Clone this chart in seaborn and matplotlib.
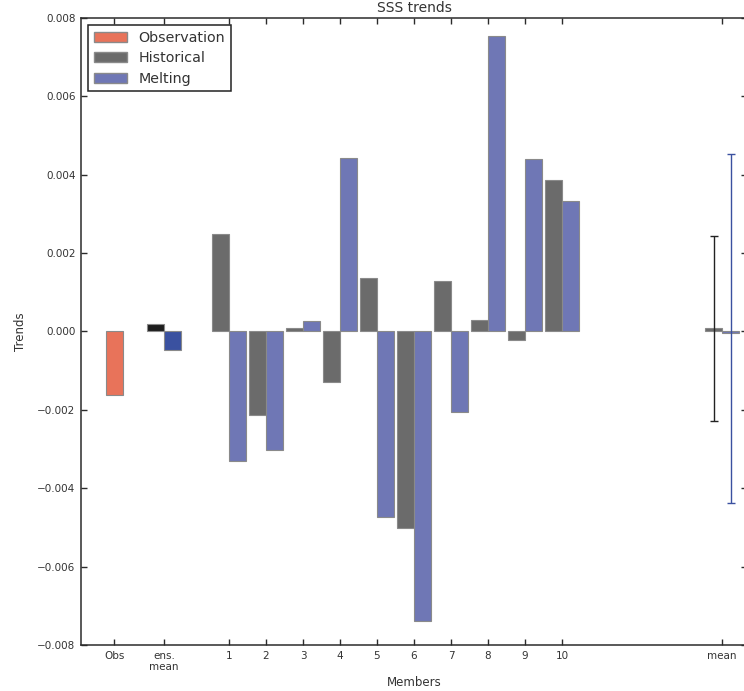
import matplotlib
matplotlib.use("Agg")
import matplotlib.pyplot as plt
import numpy as np
import seaborn as sns
from matplotlib.patches import Patch
from matplotlib.ticker import FuncFormatter

# ── Data ──────────────────────────────────────────────────────────────────────
MEMBERS = list(range(1, 11))
HISTORICAL = [0.0025, -0.00214, 0.0001, -0.0013, 0.00136,
              -0.00502, 0.00128, 0.0003, -0.00022, 0.00386]
MELTING = [-0.0033, -0.00303, 0.00027, 0.00444, -0.00474,
           -0.00738, -0.00205, 0.00754, 0.0044, 0.00332]
OBS_TREND = -0.00163
ENS_MEAN_HIST = 0.0002
ENS_MEAN_MELT = -0.00048
MEAN_HIST = 0.00008
MEAN_MELT = -0.00005
STD_HIST = 0.00236
STD_MELT = 0.00446
TICK_LABELS = ["Obs", "ens.\nmean"] + [str(m) for m in MEMBERS] + ["mean"]
YTICKS = [-0.008, -0.006, -0.004, -0.002, 0.0, 0.002, 0.004, 0.006, 0.008]

# ── Layout / style ────────────────────────────────────────────────────────────
POS_OBS, POS_ENS, POS_MEAN = -2.1, -0.75, 14.33
W = 0.46
COLORS = {
    "obs": "#e8735a",
    "hist": "#6b6b6b",
    "melt": "#6f77b5",
    "ens_hist": "#1e1e1e",
    "ens_melt": "#3a51a0",
}
EDGE = "#8a8a8a"

sns.set_style("white", {
    "axes.edgecolor": "#2b2b2b",
    "xtick.direction": "in",
    "ytick.direction": "in",
    "xtick.top": True,
    "ytick.right": True,
    "xtick.bottom": True,
    "ytick.left": True,
})
plt.rcParams["font.family"] = ["DejaVu Sans"]
plt.rcParams["axes.linewidth"] = 1.1

fig = plt.figure(figsize=(7.44, 6.91), dpi=100)
ax = fig.add_axes([81 / 744, 1 - 645 / 691, (747 - 81) / 744, (645 - 18) / 691])


def bars(x, y, color):
    sns.barplot(
        x=x, y=y, native_scale=True, orient="x", width=W, color=color,
        saturation=1, errorbar=None, edgecolor=EDGE, linewidth=0.8, ax=ax,
    )


members = np.array(MEMBERS, dtype=float)
bars([POS_OBS], [OBS_TREND], COLORS["obs"])
bars([POS_ENS - W / 2], [ENS_MEAN_HIST], COLORS["ens_hist"])
bars([POS_ENS + W / 2], [ENS_MEAN_MELT], COLORS["ens_melt"])
bars(members - W / 2, HISTORICAL, COLORS["hist"])
bars(members + W / 2, MELTING, COLORS["melt"])
bars([POS_MEAN - W / 2], [MEAN_HIST], COLORS["hist"])
bars([POS_MEAN + W / 2], [MEAN_MELT], COLORS["melt"])

# both spreads are drawn around the historical mean, as in the reference
ax.errorbar(POS_MEAN - W / 2, MEAN_HIST, yerr=STD_HIST, fmt="none",
            ecolor="#222222", elinewidth=1.0, capsize=3, capthick=1.0)
ax.errorbar(POS_MEAN + W / 2, MEAN_HIST, yerr=STD_MELT, fmt="none",
            ecolor="#3a51a0", elinewidth=1.0, capsize=3, capthick=1.0)

ax.set_xlim(-3, 15)
ax.set_ylim(-0.008, 0.008)
ax.set_xticks([POS_OBS, POS_ENS] + MEMBERS + [POS_MEAN])
ax.set_xticklabels(TICK_LABELS, fontsize=7.5, color="#333333")
ax.set_yticks(YTICKS)
ax.yaxis.set_major_formatter(FuncFormatter(lambda v, _: f"{v:.3f}".replace("-", "\u2212")))
ax.tick_params(axis="y", labelsize=7.5, labelcolor="#333333")
ax.tick_params(length=4, width=1.0, color="#2b2b2b", pad=4)

ax.set_xlabel("Members", fontsize=8.5, color="#333333", labelpad=3)
ax.set_ylabel("Trends", fontsize=8.5, color="#333333", labelpad=7)
ax.set_title("SSS trends", fontsize=10, color="#333333", pad=4)

handles = [
    Patch(facecolor=COLORS["obs"], edgecolor=EDGE, label="Observation"),
    Patch(facecolor=COLORS["hist"], edgecolor=EDGE, label="Historical"),
    Patch(facecolor=COLORS["melt"], edgecolor=EDGE, label="Melting"),
]
leg = ax.legend(handles=handles, loc="upper left", fontsize=10.3, frameon=True,
                fancybox=False, framealpha=1, edgecolor="#222222",
                handlelength=2.3, labelspacing=0.45, borderaxespad=0.5)
leg.get_frame().set_linewidth(1.1)
for t in leg.get_texts():
    t.set_color("#333333")

fig.savefig("out.png", dpi=100)
